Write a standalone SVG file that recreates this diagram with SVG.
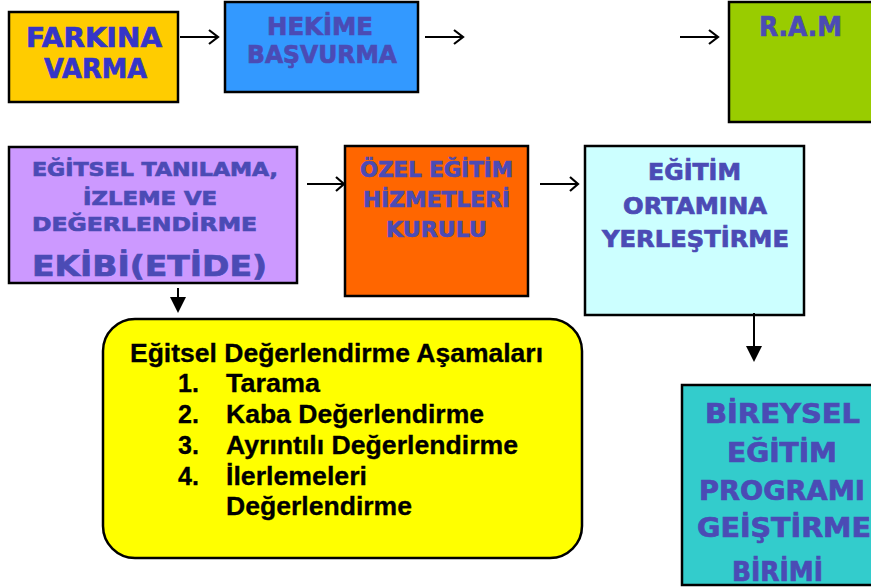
<svg xmlns="http://www.w3.org/2000/svg" width="871" height="587" viewBox="0 0 871 587">
<style>
.box{stroke:#000;stroke-width:2.5}
.t{font-family:"DejaVu Sans",Verdana,sans-serif;font-weight:bold;fill:#4B4BB5;stroke:#4B4BB5;stroke-width:0.7;text-anchor:start}
.k{font-family:"Liberation Sans",Arial,sans-serif;font-weight:bold;fill:#000;stroke:#000;stroke-width:0.3}
.ln{stroke:#000;stroke-width:2;fill:none}
.ch{stroke:#000;stroke-width:2.2;fill:none;stroke-linejoin:miter}
</style>
<defs>
<clipPath id="cb"><rect x="682" y="385" width="200" height="200"/></clipPath>
</defs>
<rect width="871" height="587" fill="#fff"/>

<g id="farkina">
<rect class="box" x="9" y="12" width="169" height="90" fill="#FFCC00"/>
<text class="t" style="fill:#3535C8;stroke:#3535C8" font-size="27" x="26" y="47" textLength="136" lengthAdjust="spacingAndGlyphs">FARKINA</text>
<text class="t" style="fill:#3535C8;stroke:#3535C8" font-size="27" x="44" y="78" textLength="103" lengthAdjust="spacingAndGlyphs">VARMA</text>
</g>

<g id="hekime">
<rect class="box" x="225" y="2" width="193" height="90" fill="#3399FF"/>
<text class="t" font-size="25" x="267" y="35" textLength="106" lengthAdjust="spacingAndGlyphs">HEKİME</text>
<text class="t" font-size="25" x="247" y="63" textLength="150" lengthAdjust="spacingAndGlyphs">BAŞVURMA</text>
</g>

<g id="ram">
<rect class="box" x="729" y="2" width="150" height="120" fill="#99CC00"/>
<text class="t" font-size="27" x="759" y="36" textLength="83" lengthAdjust="spacingAndGlyphs">R.A.M</text>
</g>

<g id="etide">
<rect class="box" x="9" y="147" width="288" height="136" fill="#CC99FF"/>
<text class="t" font-size="19" x="32" y="176" textLength="246" lengthAdjust="spacingAndGlyphs">EĞİTSEL TANILAMA,</text>
<text class="t" font-size="19" x="83" y="205" textLength="134" lengthAdjust="spacingAndGlyphs">İZLEME  VE</text>
<text class="t" font-size="19" x="32" y="231" textLength="225" lengthAdjust="spacingAndGlyphs">DEĞERLENDİRME</text>
<text class="t" font-size="28" x="32" y="276" textLength="235" lengthAdjust="spacingAndGlyphs">EKİBİ(ETİDE)</text>
</g>

<g id="ozel">
<rect class="box" x="345" y="146" width="183" height="150" fill="#FF6600"/>
<text class="t" font-size="21" x="360" y="177" textLength="153" lengthAdjust="spacingAndGlyphs">ÖZEL EĞİTİM</text>
<text class="t" font-size="21" x="363" y="207" textLength="147" lengthAdjust="spacingAndGlyphs">HİZMETLERİ</text>
<text class="t" font-size="21" x="386" y="237" textLength="101" lengthAdjust="spacingAndGlyphs">KURULU</text>
</g>

<g id="egitim">
<rect class="box" x="585" y="146" width="219" height="169" fill="#CCFFFF"/>
<text class="t" font-size="23" x="648" y="180" textLength="93" lengthAdjust="spacingAndGlyphs">EĞİTİM</text>
<text class="t" font-size="23" x="623" y="214" textLength="144" lengthAdjust="spacingAndGlyphs">ORTAMINA</text>
<text class="t" font-size="23" x="602" y="247" textLength="187" lengthAdjust="spacingAndGlyphs">YERLEŞTİRME</text>
</g>

<g id="asamalar">
<rect class="box" x="103" y="319" width="479" height="239" rx="32" ry="32" fill="#FFFF00"/>
<text class="k" font-size="25" x="130" y="362" textLength="413" lengthAdjust="spacingAndGlyphs">Eğitsel Değerlendirme Aşamaları</text>
<text class="k" font-size="25" x="178" y="392">1.</text>
<text class="k" font-size="25" x="226" y="392" textLength="94" lengthAdjust="spacingAndGlyphs">Tarama</text>
<text class="k" font-size="25" x="178" y="423">2.</text>
<text class="k" font-size="25" x="226" y="423" textLength="258" lengthAdjust="spacingAndGlyphs">Kaba Değerlendirme</text>
<text class="k" font-size="25" x="178" y="454">3.</text>
<text class="k" font-size="25" x="226" y="454" textLength="292" lengthAdjust="spacingAndGlyphs">Ayrıntılı Değerlendirme</text>
<text class="k" font-size="25" x="178" y="485">4.</text>
<text class="k" font-size="25" x="226" y="485" textLength="141" lengthAdjust="spacingAndGlyphs">İlerlemeleri</text>
<text class="k" font-size="25" x="226" y="515" textLength="186" lengthAdjust="spacingAndGlyphs">Değerlendirme</text>
</g>

<g id="bireysel">
<rect class="box" x="682" y="385" width="200" height="200" fill="#33CCCC"/>
<g clip-path="url(#cb)">
<text class="t" font-size="26" x="705" y="423" textLength="155" lengthAdjust="spacingAndGlyphs">BİREYSEL</text>
<text class="t" font-size="26" x="727" y="462" textLength="110" lengthAdjust="spacingAndGlyphs">EĞİTİM</text>
<text class="t" font-size="26" x="699" y="500" textLength="166" lengthAdjust="spacingAndGlyphs">PROGRAMI</text>
<text class="t" font-size="26" x="697" y="537" textLength="174" lengthAdjust="spacingAndGlyphs">GEİŞTİRME</text>
<text class="t" font-size="26" x="732" y="581" textLength="91" lengthAdjust="spacingAndGlyphs">BİRİMİ</text>
</g>
</g>

<g id="connectors">
<line class="ln" x1="180" y1="37" x2="218" y2="37"/><polyline class="ch" points="209,30 218,37 209,44"/>
<line class="ln" x1="425" y1="37" x2="463" y2="37"/><polyline class="ch" points="454,30 463,37 454,44"/>
<line class="ln" x1="680" y1="37" x2="718" y2="37"/><polyline class="ch" points="709,30 718,37 709,44"/>
<line class="ln" x1="307" y1="184" x2="344" y2="184"/><polyline class="ch" points="336,177 344,184 336,191"/>
<line class="ln" x1="540" y1="184" x2="578" y2="184"/><polyline class="ch" points="570,177 578,184 570,191"/>
<line class="ln" x1="178" y1="288" x2="178" y2="300"/><polygon points="170,297 186,297 178,313" fill="#000"/>
<line class="ln" x1="754" y1="313" x2="754" y2="348"/><polygon points="746,346 762,346 754,362" fill="#000"/>
</g>
</svg>
